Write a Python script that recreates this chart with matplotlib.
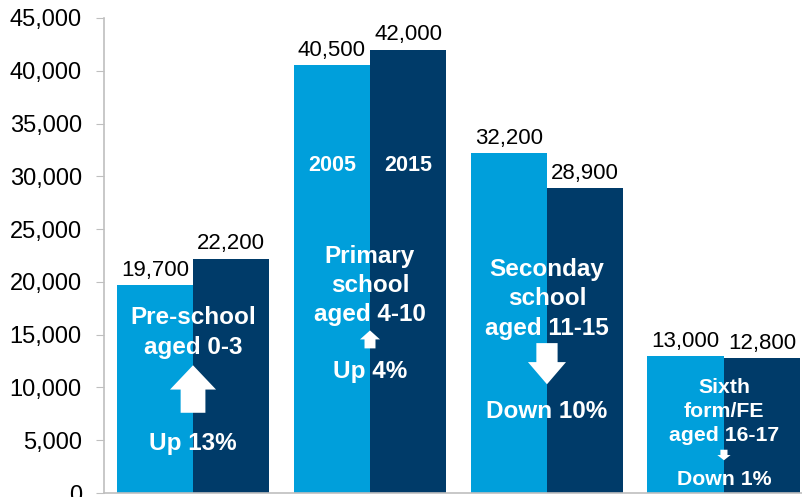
import numpy as np
import matplotlib.pyplot as plt
from matplotlib.patches import FancyArrow
from matplotlib.ticker import FuncFormatter

plt.rcParams['font.family'] = ['Liberation Sans', 'DejaVu Sans']

groups = ["Pre-school\naged 0-3", "Primary\nschool\naged 4-10",
          "Seconday\nschool\naged 11-15", "Sixth\nform/FE\naged 16-17"]
pupils_2005 = [19700, 40500, 32200, 13000]
pupils_2015 = [22200, 42000, 28900, 12800]
changes = ["Up 13%", "Up 4%", "Down 10%", "Down 1%"]

light = "#009FDB"
dark = "#003B69"

fig = plt.figure(figsize=(8.02, 4.97), dpi=100)
ax = fig.add_axes([104 / 802, 4 / 497, 698 / 802, 475 / 497])

x = np.arange(len(groups))
w = 0.432
b1 = ax.bar(x - w / 2, pupils_2005, w, color=light)
b2 = ax.bar(x + w / 2, pupils_2015, w, color=dark)

for bars, vals in [(b1, pupils_2005), (b2, pupils_2015)]:
    for rect, v in zip(bars, vals):
        ax.annotate(f"{v:,}", (rect.get_x() + rect.get_width() / 2, v),
                    xytext=(0, 3), textcoords="offset points",
                    ha="center", va="bottom", fontsize=16, color="black")

ax.set_xlim(-0.503, 3.441)
ax.set_ylim(0, 45000)
ax.set_yticks(range(0, 45001, 5000))
ax.yaxis.set_major_formatter(FuncFormatter(lambda v, p: f"{int(v):,}"))
ax.set_xticks([])
ax.tick_params(axis="y", labelsize=17, length=6, color="#BFBFBF", pad=10)
for s in ["top", "right"]:
    ax.spines[s].set_visible(False)
for s in ["left", "bottom"]:
    ax.spines[s].set_color("#BFBFBF")
    ax.spines[s].set_linewidth(1.2)

txt = dict(color="white", fontweight="bold", ha="center",
           va="center", linespacing=1.35)

# year labels inside primary bars
ax.text(1 - w / 2, 31050, "2005", fontsize=15.5, **txt)
ax.text(1 + w / 2, 31050, "2015", fontsize=15.5, **txt)

# group labels and change labels (y in data units)
label_y = [15200, 19650, 18400, 7700]
change_y = [4700, 11500, 7750, 1250]
sizes = [17.5, 17.5, 17.5, 15.3]
for i in range(len(groups)):
    ax.text(x[i], label_y[i], groups[i], fontsize=sizes[i], **txt)
    ax.text(x[i], change_y[i], changes[i], fontsize=sizes[i], **txt)

# arrows: (base, length, shaft width, head width, head length)
arrows = [
    (7600, 4500, 0.14, 0.26, 2300),
    (13700, 1700, 0.062, 0.113, 850),
    (14200, -3900, 0.12, 0.215, 2100),
    (4100, -1000, 0.04, 0.075, 500),
]
for i, (y0, dy, sw, hw, hl) in enumerate(arrows):
    ax.add_patch(FancyArrow(x[i], y0, 0, dy, width=sw, head_width=hw,
                            head_length=hl, length_includes_head=True,
                            color="white", lw=0))

fig.savefig("out.png", dpi=100)
